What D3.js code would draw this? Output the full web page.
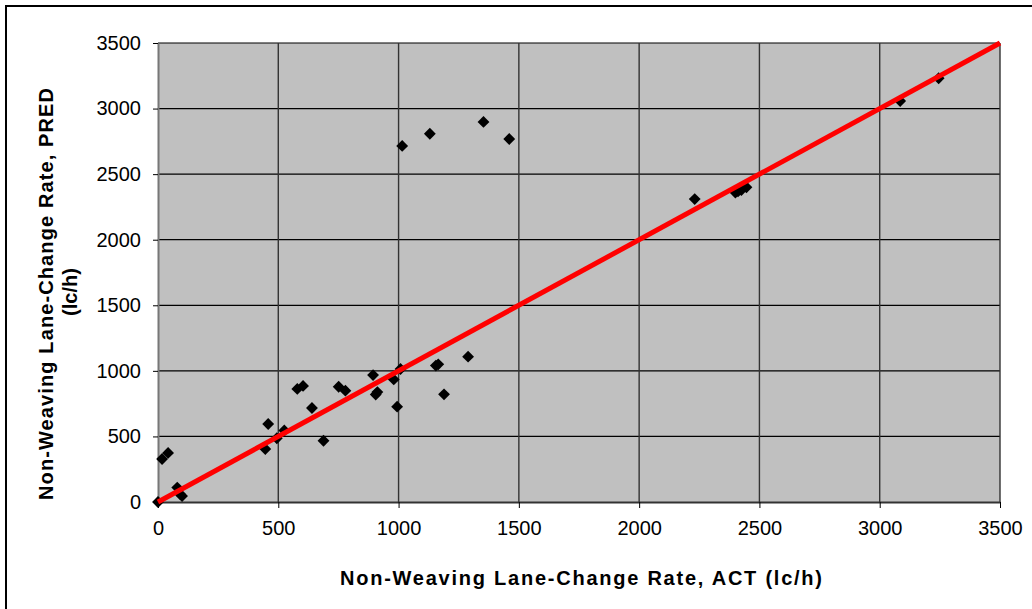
<!DOCTYPE html>
<html>
<head>
<meta charset="utf-8">
<script src="https://cdn.jsdelivr.net/npm/d3@7"></script>
<style>
  body { margin: 0; background: #fff; }
  svg { display: block; font-family: "Liberation Sans", Arial, sans-serif; }
</style>
</head>
<body>
<div id="chart"></div>
<script>
const width = 1032;
const height = 609;
const margin = { top: 43, right: 32, bottom: 107, left: 158 };

// observed (ACT) vs predicted (PRED) non-weaving lane-change rates
const actValues = [0, 17, 42, 80, 92, 100, 446, 458, 494, 525, 579, 603, 640, 688,
  751, 779, 894, 905, 912, 980, 994, 1008, 1155, 1165, 1189, 1289,
  1015, 1130, 1353, 1460, 2231, 2400, 2411, 2425, 2446, 3085, 3245];
const predValues = [0, 328, 374, 110, 60, 45, 404, 595, 486, 545, 862, 885, 717, 467,
  879, 849, 968, 820, 838, 935, 727, 1014, 1040, 1050, 821, 1108,
  2715, 2808, 2898, 2768, 2310, 2360, 2368, 2379, 2400, 3058, 3231];
const lineValues = [0, 3500];
const tickValues = [0, 500, 1000, 1500, 2000, 2500, 3000, 3500];

const xTitle = "Non-Weaving Lane-Change Rate, ACT  (lc/h)";
const yTitle1 = "Non-Weaving Lane-Change Rate, PRED";
const yTitle2 = "(lc/h)";

const x = d3.scaleLinear().domain([0, 3500]).range([margin.left, width - margin.right]);
const y = d3.scaleLinear().domain([0, 3500]).range([height - margin.bottom, margin.top]);

const svg = d3.select("#chart").append("svg")
  .attr("width", width)
  .attr("height", height);

// outer frame
svg.append("rect")
  .attr("x", 6).attr("y", 6)
  .attr("width", width).attr("height", height)
  .attr("fill", "none")
  .attr("stroke", "#000")
  .attr("stroke-width", 2);

// plot background
svg.append("rect")
  .attr("x", x(0)).attr("y", y(3500))
  .attr("width", x(3500) - x(0))
  .attr("height", y(0) - y(3500))
  .attr("fill", "#c0c0c0");

// grid
svg.append("g")
  .selectAll("line")
  .data(tickValues.slice(1))
  .join("line")
  .attr("x1", x(0)).attr("x2", x(3500))
  .attr("y1", (d) => y(d)).attr("y2", (d) => y(d))
  .attr("stroke", "#000")
  .attr("stroke-width", 1.2);

svg.append("g")
  .selectAll("line")
  .data(tickValues.slice(1))
  .join("line")
  .attr("x1", (d) => x(d)).attr("x2", (d) => x(d))
  .attr("y1", y(0)).attr("y2", y(3500))
  .attr("stroke", "#333")
  .attr("stroke-width", 1.4);

// axes
const fmt = d3.format("d");
const xAxis = svg.append("g")
  .attr("transform", `translate(0,${y(0)})`)
  .call(d3.axisBottom(x).tickValues(tickValues).tickFormat(fmt)
    .tickSize(6).tickPadding(13).tickSizeOuter(0));
const yAxis = svg.append("g")
  .attr("transform", `translate(${x(0)},0)`)
  .call(d3.axisLeft(y).tickValues(tickValues).tickFormat(fmt)
    .tickSize(5).tickPadding(12).tickSizeOuter(0));

[xAxis, yAxis].forEach((g) => {
  g.selectAll("text")
    .attr("font-family", "Liberation Sans, Arial, sans-serif")
    .attr("font-size", "20px")
    .attr("fill", "#000");
  g.selectAll("line").attr("stroke", "#000");
});
xAxis.select(".domain").attr("stroke", "#333").attr("stroke-width", 2);
yAxis.select(".domain").attr("stroke", "#777").attr("stroke-width", 2);

// points
const diamond = d3.symbol(d3.symbolSquare, 70)();
svg.append("g")
  .selectAll("path")
  .data(actValues.map((d, i) => [d, predValues[i]]))
  .join("path")
  .attr("d", diamond)
  .attr("transform", (d) => `translate(${x(d[0])},${y(d[1])}) rotate(45)`)
  .attr("fill", "#000");

// 1:1 line
svg.append("line")
  .attr("x1", x(lineValues[0])).attr("y1", y(lineValues[0]))
  .attr("x2", x(lineValues[1])).attr("y2", y(lineValues[1]))
  .attr("stroke", "#ff0000")
  .attr("stroke-width", 5);

// axis titles
svg.append("text")
  .attr("x", 581).attr("y", 585)
  .attr("text-anchor", "middle")
  .attr("font-size", "20px")
  .attr("font-weight", "bold")
  .attr("textLength", 482)
  .attr("lengthAdjust", "spacing")
  .text(xTitle);

svg.append("text")
  .attr("transform", "translate(53,294) rotate(-90)")
  .attr("text-anchor", "middle")
  .attr("font-size", "20px")
  .attr("font-weight", "bold")
  .attr("textLength", 412)
  .attr("lengthAdjust", "spacing")
  .text(yTitle1);

svg.append("text")
  .attr("transform", "translate(77,292) rotate(-90)")
  .attr("text-anchor", "middle")
  .attr("font-size", "20px")
  .attr("font-weight", "bold")
  .text(yTitle2);
</script>
</body>
</html>
